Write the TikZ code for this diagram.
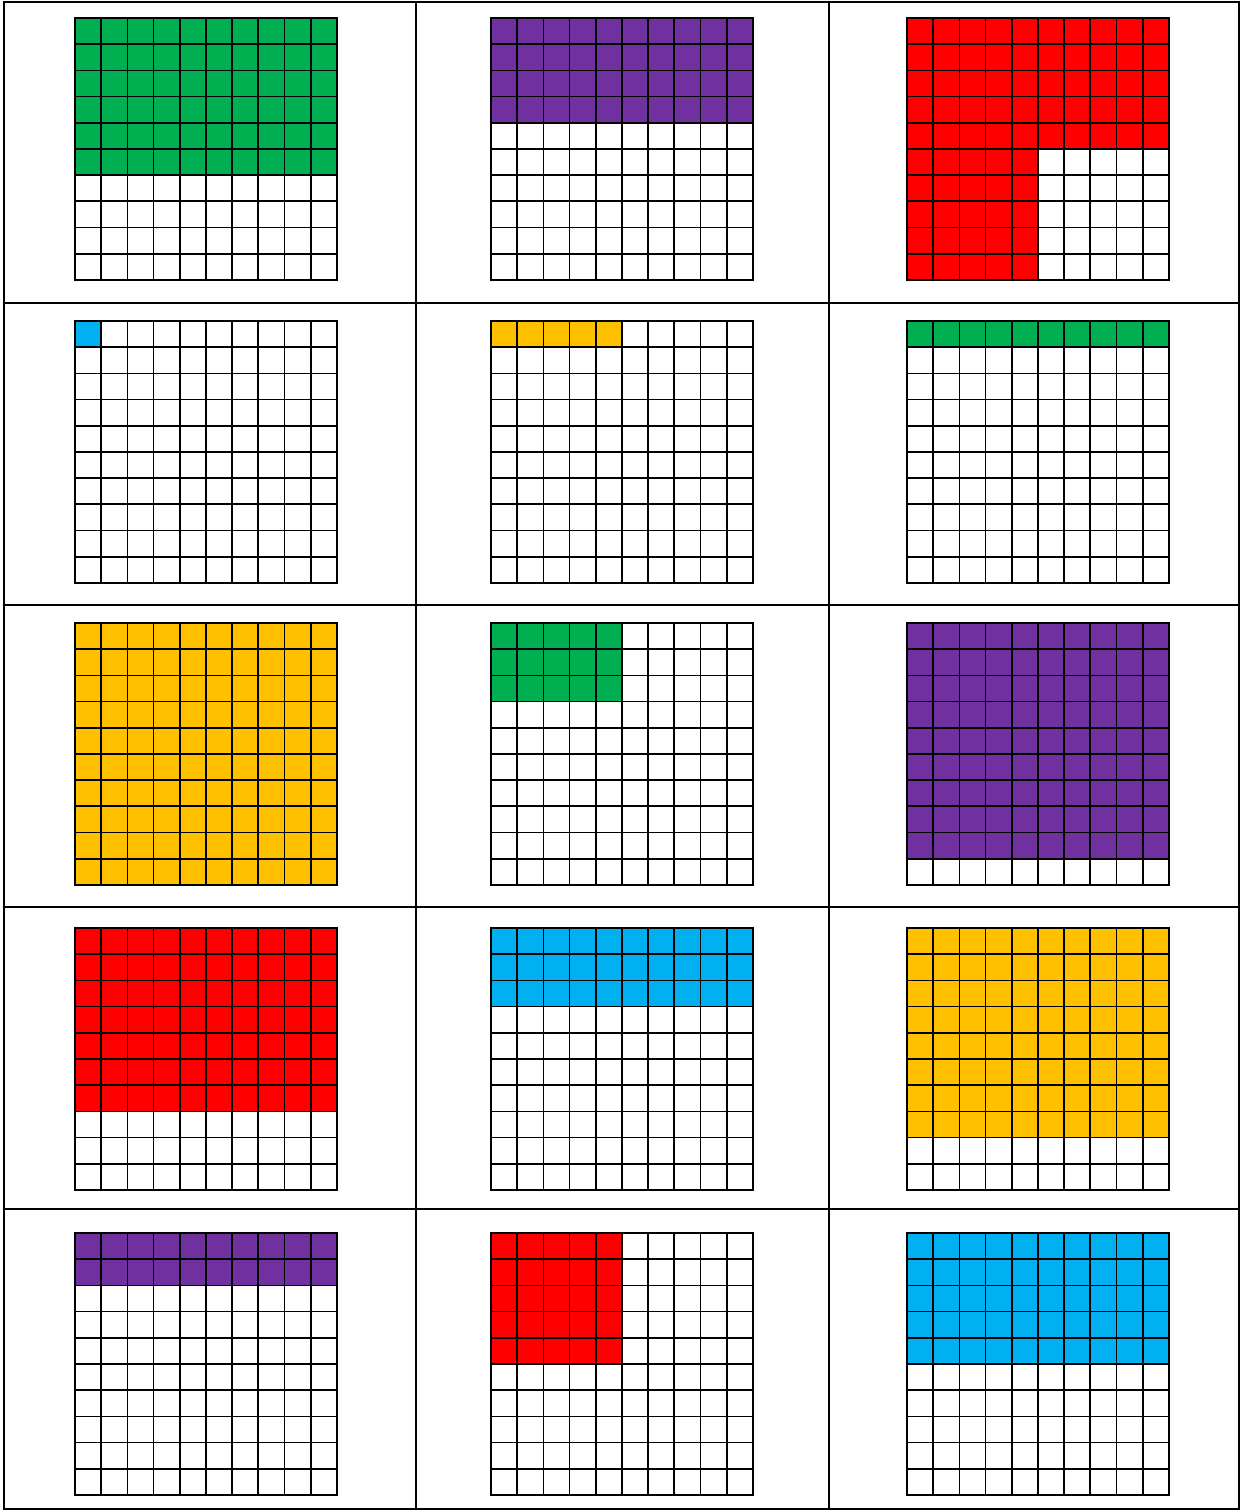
\documentclass[tikz,border=0pt]{standalone}
\definecolor{cgreen}{HTML}{00B050}
\definecolor{cpurple}{HTML}{7030A0}
\definecolor{cred}{HTML}{FF0000}
\definecolor{cblue}{HTML}{00B0F0}
\definecolor{cyellow}{HTML}{FFC000}
\tikzset{
  cellline/.style={draw=black, line width=1.0pt, line cap=rect},
  tableline/.style={draw=black, line width=1.6pt},
}
\newcommand{\hundredgrid}[3]{%
  \begin{scope}[shift={(#1,#2)}, x=0.524cm, y=-0.524cm]
    #3
    \foreach \i in {0,...,10} {
      \draw[cellline] (\i,0) -- (\i,10);
      \draw[cellline] (0,\i) -- (10,\i);
    }
  \end{scope}}
\begin{document}
\begin{tikzpicture}[x=0.02cm, y=-0.02cm]
\useasboundingbox (0,0) rectangle (1240,1511);
\fill[white] (0,0) rectangle (1240,1511);
% table
\draw[tableline] (4,2) rectangle (1239,1509);
\foreach \xx in {416,829} \draw[tableline] (\xx,2) -- (\xx,1509);
\foreach \yy in {303,605,907,1209} \draw[tableline] (4,\yy) -- (1239,\yy);
% row 1
\hundredgrid{75}{18}{\fill[cgreen] (0,0) rectangle (10,6);}
\hundredgrid{491}{18}{\fill[cpurple] (0,0) rectangle (10,4);}
\hundredgrid{907}{18}{\fill[cred] (0,0) rectangle (10,5); \fill[cred] (0,5) rectangle (5,10);}
% row 2
\hundredgrid{75}{321}{\fill[cblue] (0,0) rectangle (1,1);}
\hundredgrid{491}{321}{\fill[cyellow] (0,0) rectangle (5,1);}
\hundredgrid{907}{321}{\fill[cgreen] (0,0) rectangle (10,1);}
% row 3
\hundredgrid{75}{623}{\fill[cyellow] (0,0) rectangle (10,10);}
\hundredgrid{491}{623}{\fill[cgreen] (0,0) rectangle (5,3);}
\hundredgrid{907}{623}{\fill[cpurple] (0,0) rectangle (10,9);}
% row 4
\hundredgrid{75}{928}{\fill[cred] (0,0) rectangle (10,7);}
\hundredgrid{491}{928}{\fill[cblue] (0,0) rectangle (10,3);}
\hundredgrid{907}{928}{\fill[cyellow] (0,0) rectangle (10,8);}
% row 5
\hundredgrid{75}{1233}{\fill[cpurple] (0,0) rectangle (10,2);}
\hundredgrid{491}{1233}{\fill[cred] (0,0) rectangle (5,5);}
\hundredgrid{907}{1233}{\fill[cblue] (0,0) rectangle (10,5);}
\end{tikzpicture}
\end{document}
